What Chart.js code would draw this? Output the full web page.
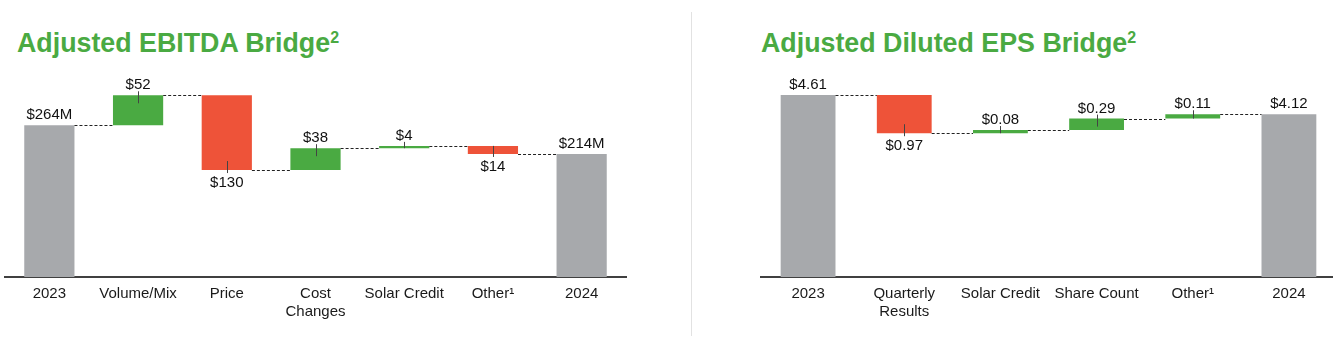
<!DOCTYPE html>
<html>
<head>
<meta charset="utf-8">
<title>Adjusted EBITDA and EPS Bridge</title>
<script src="https://cdn.jsdelivr.net/npm/chart.js"></script>
<style>
	html, body { margin: 0; padding: 0; background: #fff; overflow: hidden; }
	body { width: 1333px; height: 338px; position: relative; font-family: "Liberation Sans", Arial, sans-serif; }
	.titulo { position: absolute; top: 28px; font-weight: bold; font-size: 26.8px; line-height: 30px; color: #4aaa42; white-space: nowrap; }
	.titulo sup { font-size: 16px; vertical-align: 9px; line-height: 0; }
	.caja { position: absolute; top: 60px; height: 278px; }
	#sep { position: absolute; left: 691px; top: 12px; width: 1px; height: 324px; background: #e2e2e2; }
</style>
</head>
<body>

<div class="titulo" style="left:17px">Adjusted EBITDA Bridge<sup>2</sup></div>
<div class="titulo" style="left:761px">Adjusted Diluted EPS Bridge<sup>2</sup></div>
<div id="sep"></div>

<div class="caja" style="left:0px;width:630px"><canvas id="ebitda"></canvas></div>
<div class="caja" style="left:760px;width:577px"><canvas id="eps"></canvas></div>

<script>
	// datos del puente EBITDA (millones)
	var ebitdaCats = ['2023', 'Volume/Mix', 'Price', ['Cost', 'Changes'], 'Solar Credit', 'Other¹', '2024'];
	var ebitdaValues = [264, 52, -130, 38, 4, -14, 214];
	var ebitdaTotals = [true, false, false, false, false, false, true];
	var ebitdaLabels = ['$264M', '$52', '$130', '$38', '$4', '$14', '$214M'];

	// datos del puente EPS
	var epsCats = ['2023', ['Quarterly', 'Results'], 'Solar Credit', 'Share Count', 'Other¹', '2024'];
	var epsValues = [4.61, -0.97, 0.08, 0.29, 0.11, 4.12];
	var epsTotals = [true, false, false, false, false, true];
	var epsLabels = ['$4.61', '$0.97', '$0.08', '$0.29', '$0.11', '$4.12'];

	var GRIS = '#a7a9ac', VERDE = '#4aaa42', ROJO = '#ee5339';

	// pasa de valores a barras flotantes
	function armarPuente(values, totals) {
		var ranges = [], levels = [], colors = [];
		var acum = 0;
		for (var i = 0; i < values.length; i++) {
			if (totals[i]) {
				acum = values[i];
				ranges.push([0, acum]);
				colors.push(GRIS);
			} else {
				var antes = acum;
				acum = Math.round((acum + values[i]) * 1000) / 1000;
				ranges.push([Math.min(antes, acum), Math.max(antes, acum)]);
				colors.push(values[i] >= 0 ? VERDE : ROJO);
			}
			levels.push(acum);
		}
		return { ranges: ranges, levels: levels, colors: colors };
	}

	var bridgePlugin = {
		id: 'bridge',
		afterDatasetsDraw: function(chart, args, opts) {
			var ctx = chart.ctx;
			var meta = chart.getDatasetMeta(0);
			var y = chart.scales.y;
			ctx.save();

			// líneas punteadas entre barras
			ctx.setLineDash([3, 2]);
			ctx.strokeStyle = '#222';
			ctx.lineWidth = 1;
			for (var i = 0; i < meta.data.length - 1; i++) {
				var a = meta.data[i], b = meta.data[i + 1];
				var py = Math.round(y.getPixelForValue(opts.levels[i])) + 0.5;
				ctx.beginPath();
				ctx.moveTo(a.x + a.width / 2, py);
				ctx.lineTo(b.x - b.width / 2, py);
				ctx.stroke();
			}
			ctx.setLineDash([]);

			// etiquetas y marquitas
			ctx.font = '15px "Liberation Sans", Arial, sans-serif';
			ctx.fillStyle = '#111';
			ctx.textAlign = 'center';
			ctx.textBaseline = 'alphabetic';
			for (var j = 0; j < meta.data.length; j++) {
				var bar = meta.data[j];
				var r = chart.data.datasets[0].data[j];
				var top = y.getPixelForValue(r[1]);
				var bottom = y.getPixelForValue(r[0]);
				var cx = Math.round(bar.x) + 0.5;
				var arriba = opts.totals[j] || opts.values[j] >= 0;
				if (arriba) {
					ctx.fillText(opts.labels[j], bar.x, top - 6);
				} else {
					ctx.fillText(opts.labels[j], bar.x, bottom + 17);
				}
				if (!opts.totals[j]) {
					ctx.strokeStyle = '#444';
					ctx.beginPath();
					if (arriba) {
						ctx.moveTo(cx, top - 4);
						ctx.lineTo(cx, Math.min(top + 8, bottom));
					} else {
						ctx.moveTo(cx, Math.max(bottom - 9, top));
						ctx.lineTo(cx, bottom + 3);
					}
					ctx.stroke();
				}
			}
			ctx.restore();
		}
	};

	function crearPuente(id, cats, values, totals, labels, yMax, barPct, pad) {
		var p = armarPuente(values, totals);
		return new Chart(document.getElementById(id), {
			type: 'bar',
			data: {
				labels: cats,
				datasets: [{
					data: p.ranges,
					backgroundColor: p.colors,
					borderWidth: 0,
					borderSkipped: false,
					barPercentage: barPct,
					categoryPercentage: 1
				}]
			},
			options: {
				responsive: true,
				maintainAspectRatio: false,
				animation: false,
				layout: { padding: pad },
				plugins: {
					legend: { display: false },
					tooltip: { enabled: false },
					bridge: { levels: p.levels, labels: labels, values: values, totals: totals }
				},
				scales: {
					x: {
						z: 1,
						grid: { display: false, drawTicks: false },
						border: { display: true, color: '#404040', width: 2 },
						ticks: {
							color: '#1a1a1a',
							font: { family: '"Liberation Sans", Arial, sans-serif', size: 15 },
							padding: 8,
							maxRotation: 0,
							autoSkip: false
						},
						afterFit: function(scale) { scale.height = 61; }
					},
					y: { display: false, min: 0, max: yMax }
				}
			},
			plugins: [bridgePlugin]
		});
	}

	crearPuente('ebitda', ebitdaCats, ebitdaValues, ebitdaTotals, ebitdaLabels, 360, 0.566,
		{ left: 5, right: 4, top: 10, bottom: 0 });
	crearPuente('eps', epsCats, epsValues, epsTotals, epsLabels, 5.24, 0.57,
		{ left: 0, right: 0, top: 10, bottom: 0 });
</script>

</body>
</html>
